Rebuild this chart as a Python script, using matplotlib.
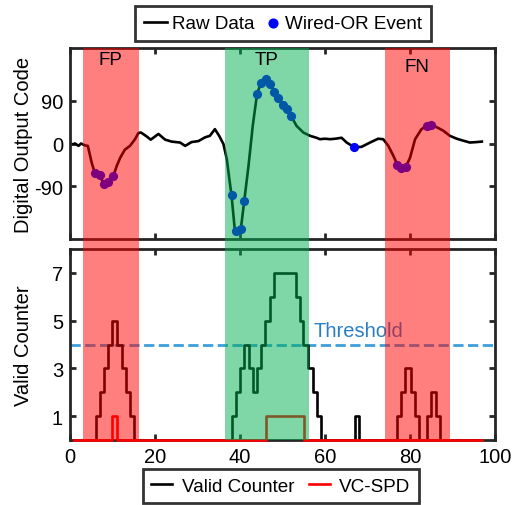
import matplotlib
matplotlib.use("Agg")
import matplotlib.pyplot as plt
from matplotlib.patches import Rectangle
from matplotlib.transforms import blended_transform_factory
from matplotlib.legend_handler import HandlerPathCollection

plt.rcParams['font.family'] = ['Liberation Sans', 'DejaVu Sans']
plt.rcParams['axes.unicode_minus'] = False

# ---- data ----
raw_x = [0.8, 1.2, 2.0, 2.6, 3.5, 4.2, 5.1, 5.7, 6.0, 6.9, 8.0, 8.6, 9.2, 10.2, 11.0, 11.8,
         12.9, 14.1, 15.3, 16.1, 16.7, 18.0, 19.0, 20.2, 20.8, 22.4, 23.9, 25.9, 27.1, 28.6,
         30.2, 31.8, 32.9, 34.1, 35.1, 36.1, 36.9, 37.5, 38.0, 38.8, 39.5, 40.2, 41.0, 42.0,
         43.0, 44.0, 44.9, 45.9, 46.9, 48.1, 49.0, 50.0, 51.0, 52.0, 53.3, 54.9, 56.5, 58.0,
         58.8, 60.0, 61.2, 62.4, 63.9, 65.1, 66.9, 68.6, 70.6, 72.5, 73.7, 74.9, 76.1, 77.0,
         77.9, 79.0, 80.0, 81.2, 82.7, 83.9, 85.0, 86.3, 87.8, 89.4, 91.0, 92.5, 94.1, 95.7, 96.9]
raw_y = [-1, 0, -5, 0, -4, -5, -40, -58, -61, -67, -84, -82, -77, -68, -47, -30,
         -13, -5, 9, 22, 23, 15, 8, 16, 20, 8, 4, 2, -5, 3,
         5, 13, 16, 30, 16, -1, -33, -75, -108, -183, -182, -179, -120, -47,
         37, 103, 127, 136, 127, 108, 95, 80, 71, 58, 37, 23, 16, 12,
         9, 10, 9, 10, 12, 2, -8, -7, 2, 10, 9, -5, -26, -44,
         -52, -49, -30, 9, 30, 37, 40, 34, 27, 16, 10, 6, 2, 3, 4]

event_x = [5.9, 7.1, 8.1, 9.0, 10.0,
           38.0, 39.0, 40.2, 41.0, 44.0, 44.9, 46.0, 47.0, 48.1, 49.0, 50.0, 51.0, 52.0,
           66.9,
           77.0, 77.9, 79.0, 83.9, 85.0]
event_y = [-61, -67, -84, -81, -68,
           -108, -183, -179, -120, 103, 127, 136, 125, 108, 95, 81, 72, 58,
           -8,
           -44, -52, -49, 36, 39]

counter_x = [1, 6, 7, 8, 9, 9.9, 11.1, 12.2, 13.2, 14.1, 15.1,
             38, 39, 40, 41, 42.2, 43, 43.9, 44.9, 45.9, 47, 48, 53.2, 54.1, 54.9, 56.1, 57.1, 58, 59,
             67, 68.1,
             76.9, 77.9, 78.8, 80.2, 81.2, 82.2, 83.9, 84.9, 86.1, 87.1, 97]
counter_v = [0, 1, 2, 3, 4, 5, 4, 3, 2, 1, 0,
             1, 2, 3, 4, 3, 2, 3, 4, 5, 6, 7, 6, 5, 4, 3, 2, 1, 0,
             1, 0,
             1, 2, 3, 2, 1, 0, 1, 2, 1, 0, 0]

spd_x = [1, 9.9, 11.1, 46.0, 55.1, 97]
spd_v = [0, 1, 0, 1, 0, 0]

threshold = 4

regions = [(3, 16.2, 'FP', '#FF0000'), (36.5, 56.2, 'TP', '#00B050'), (74.2, 89.3, 'FN', '#FF0000')]
region_label_y = [176, 176, 162]


class RightDot(HandlerPathCollection):
    def get_xdata(self, legend, xdescent, ydescent, width, height, fontsize):
        xdata = [-xdescent, -xdescent + width]
        return xdata, [-xdescent + 0.72 * width]


# ---- figure ----
W, H = 517, 506
fig = plt.figure(figsize=(W / 100, H / 100), dpi=100)
ax1 = fig.add_axes([70 / W, 1 - 240 / H, 425 / W, 191 / H])
ax2 = fig.add_axes([70 / W, 1 - 441 / H, 425 / W, 191 / H])

FS = 14.5
LFS = 13.6
spine_c = '#262626'
for ax in (ax1, ax2):
    ax.set_xlim(0, 100)
    for s in ax.spines.values():
        s.set_linewidth(2.0)
        s.set_color(spine_c)
    ax.tick_params(direction='in', top=True, right=True, length=4, width=2,
                   labelsize=FS, color=spine_c, pad=5)
    ax.set_xticks([0, 20, 40, 60, 80, 100])

ax1.set_ylim(-200, 200)
ax1.set_yticks([-90, 0, 90])
ax1.tick_params(labelbottom=False)
ax2.set_ylim(0, 8)
ax2.set_yticks([1, 3, 5, 7])

raw_line, = ax1.plot(raw_x, raw_y, color='black', lw=1.9, label='Raw Data', zorder=2)
ev = ax1.scatter(event_x, event_y, s=44, color='#0000FF', zorder=3, label='Wired-OR Event',
                 linewidths=0)

cl, = ax2.step(counter_x, counter_v, where='post', color='black', lw=1.9, label='Valid Counter',
               zorder=2)
sl, = ax2.step(spd_x, spd_v, where='post', color='#FF0000', lw=1.9, label='VC-SPD', zorder=3,
               clip_on=False)
ax2.axhline(threshold, color='#3C9FDC', lw=2, ls='--', zorder=1)
ax2.text(57.2, 4.2, 'Threshold', color='#2A7FC4', fontsize=FS, ha='left', va='bottom')

ax1.set_ylabel('Digital Output Code', fontsize=FS)
ax2.set_ylabel('Valid Counter', fontsize=FS)
ax1.yaxis.set_label_coords(-0.088, 0.5)
ax2.yaxis.set_label_coords(-0.088, 0.5)

# shaded regions spanning both panels (drawn on top)
tr = blended_transform_factory(ax2.transData, fig.transFigure)
y0 = 1 - 441 / H
y1 = 1 - 49 / H
for (a, b, lab, c), ly in zip(regions, region_label_y):
    r = Rectangle((a, y0), b - a, y1 - y0, transform=tr, facecolor=c, alpha=0.5,
                  edgecolor='none', zorder=10)
    fig.add_artist(r)
    fig.text((a + b) / 2, ly, lab, fontsize=13.5, ha='center', va='center',
             transform=ax1.transData, zorder=11)

leg1 = fig.legend(handles=[raw_line, ev], loc='center', bbox_to_anchor=(283 / W, 1 - 24.5 / H),
                  ncol=2, fontsize=LFS, frameon=True, fancybox=False, edgecolor='black',
                  handlelength=1.2, handletextpad=0.3, columnspacing=0.1, borderpad=0.45,
                  markerscale=1.1, handler_map={type(ev): RightDot()})
leg1.get_frame().set_linewidth(2)
leg2 = fig.legend(handles=[cl, sl], loc='center', bbox_to_anchor=(281 / W, 1 - 487 / H),
                  ncol=2, fontsize=LFS, frameon=True, fancybox=False, edgecolor='black',
                  handlelength=1.1, handletextpad=0.5, columnspacing=0.8, borderpad=0.45)
leg2.get_frame().set_linewidth(2)

fig.savefig('out.png', dpi=100)
